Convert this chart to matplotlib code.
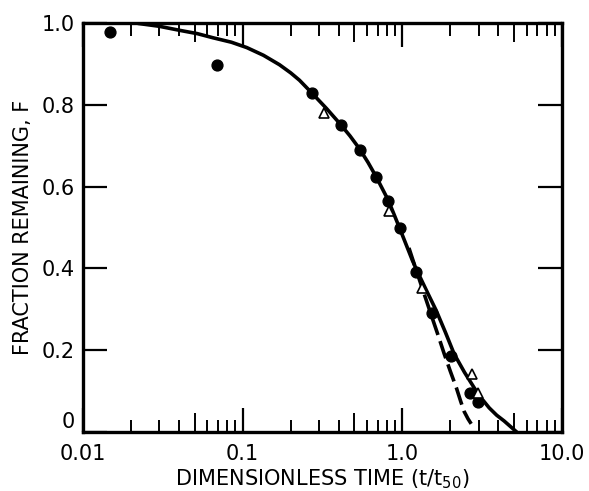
import numpy as np
import matplotlib
matplotlib.use("Agg")
import matplotlib.pyplot as plt
from matplotlib.ticker import FixedLocator, NullFormatter

# Filled circles (data set 1)
circ_t = [0.0147, 0.0688, 0.27, 0.41, 0.546, 0.688, 0.818, 0.97, 1.22, 1.54, 2.02, 2.66, 2.98]
circ_F = [0.979, 0.898, 0.829, 0.751, 0.690, 0.623, 0.564, 0.498, 0.390, 0.292, 0.187, 0.096, 0.074]
# Open triangles (data set 2)
tri_t = [0.325, 0.83, 1.33, 2.74, 2.98]
tri_F = [0.780, 0.540, 0.351, 0.142, 0.096]
# Solid model curve
solid_t = [0.0221, 0.030, 0.0404, 0.052, 0.065, 0.085, 0.106, 0.135, 0.170, 0.200, 0.227,
           0.274, 0.335, 0.404, 0.470, 0.538, 0.610, 0.688, 0.818, 0.958, 1.155, 1.24,
           1.42, 1.63, 1.86, 2.11, 2.45, 2.82, 3.15, 3.50, 3.90, 4.34, 4.80, 5.2]
solid_F = [0.999, 0.992, 0.982, 0.974, 0.964, 0.953, 0.940, 0.921, 0.898, 0.878, 0.860,
           0.827, 0.791, 0.755, 0.724, 0.693, 0.659, 0.623, 0.566, 0.500, 0.420, 0.393,
           0.345, 0.297, 0.244, 0.191, 0.146, 0.108, 0.081, 0.059, 0.041, 0.027, 0.012, 0.0]
# Dashed model curve
dash_t = [1.10, 1.20, 1.35, 1.52, 1.68, 1.83, 2.00, 2.18, 2.32, 2.44, 2.58, 2.70]
dash_F = [0.450, 0.405, 0.345, 0.285, 0.235, 0.191, 0.148, 0.108, 0.075, 0.050, 0.032, 0.020]

xticks = [0.01, 0.1, 1.0, 10.0]
xticklabels = ["0.01", "0.1", "1.0", "10.0"]
yticks = [0, 0.2, 0.4, 0.6, 0.8, 1.0]
yticklabels = ["0", "0.2", "0.4", "0.6", "0.8", "1.0"]

plt.rcParams['font.family'] = ['DejaVu Sans']
fig = plt.figure(figsize=(5.89, 4.91), dpi=100)
ax = fig.add_axes([83/589, 1-432/491, (562-83)/589, (432-23)/491])

ax.plot(solid_t, solid_F, color='black', lw=2.6, solid_capstyle='round',
        solid_joinstyle='round', zorder=2)
ax.plot(dash_t, dash_F, color='black', lw=2.6, ls=(0, (5, 1.8)), zorder=2)
ax.plot(circ_t, circ_F, 'o', color='black', ms=7.8, zorder=3, clip_on=False)
ax.plot(tri_t, tri_F, '^', mfc='white', mec='black', mew=1.2, ms=7.5, zorder=4, clip_on=False)

ax.set_xscale('log')
ax.set_xlim(0.01, 10.0)
ax.set_ylim(0, 1.0)
ax.set_xticks(xticks)
ax.set_xticklabels(xticklabels)
minors = [m * 10.0**e for e in (-2, -1, 0) for m in range(2, 10)]
ax.xaxis.set_minor_locator(FixedLocator(minors))
ax.xaxis.set_minor_formatter(NullFormatter())
ax.set_yticks(yticks)
ax.set_yticklabels(yticklabels)
ax.yaxis.set_minor_locator(FixedLocator([]))

ax.tick_params(which='major', direction='in', length=17, width=1.6, top=True, right=True,
               labelsize=15)
ax.tick_params(axis='x', which='major', pad=9)
ax.tick_params(axis='y', which='major', pad=6)
ax.tick_params(which='minor', direction='in', length=9, width=1.4, top=True, right=False)
fig.canvas.draw()
for tk, loc in zip(ax.xaxis.get_minor_ticks(), minors):
    mant = loc / 10.0**np.floor(np.log10(loc) + 1e-9)
    if abs(mant - 5) < 1e-6:
        tk.tick1line.set_markersize(14)
        tk.tick2line.set_markersize(14)
# lift the "0" label slightly as in the original
ylabels = ax.get_yticklabels()
ylabels[0].set_verticalalignment('bottom')

for s in ax.spines.values():
    s.set_linewidth(2.4)

ax.set_xlabel("DIMENSIONLESS TIME (t/t$_{50}$)", fontsize=15, labelpad=2)
ax.set_ylabel("FRACTION REMAINING, F", fontsize=15, labelpad=6)

fig.savefig("out.png", dpi=100)
